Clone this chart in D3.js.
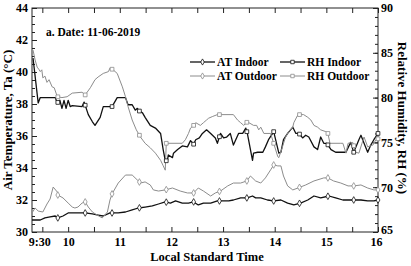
<!DOCTYPE html>
<html>
<head>
<meta charset="utf-8">
<script src="https://cdn.jsdelivr.net/npm/d3@7"></script>
<style>
  body { margin: 0; background: #fff; }
  text { font-family: "Liberation Serif", "Times New Roman", serif; font-weight: bold; fill: #000; }
</style>
</head>
<body>
<svg id="chart" width="411" height="266"></svg>
<script>
// time in decimal hours, AT in degC, RH in %
const atInTime = [9.3, 9.46, 9.55, 9.65, 9.75, 9.8, 9.9, 10.0, 10.1, 10.19, 10.33, 10.47, 10.58, 10.68, 10.81, 10.97, 11.11, 11.24, 11.36, 11.49, 11.63, 11.75, 11.88, 11.98, 12.08, 12.21, 12.33, 12.43, 12.52, 12.62, 12.76, 12.89, 12.99, 13.11, 13.2, 13.34, 13.47, 13.57, 13.63, 13.73, 13.86, 13.98, 14.12, 14.25, 14.37, 14.5, 14.64, 14.76, 14.89, 15.05, 15.18, 15.32, 15.53, 15.67, 15.8, 15.92, 16.0];
const atIn = [30.75, 30.75, 30.88, 30.94, 31.0, 30.88, 31.0, 31.19, 31.19, 31.19, 31.19, 31.13, 31.06, 31.0, 31.19, 31.19, 31.25, 31.38, 31.5, 31.56, 31.63, 31.75, 31.88, 31.81, 31.94, 31.81, 31.81, 31.88, 31.69, 31.81, 31.81, 31.94, 31.94, 31.94, 32.0, 32.13, 32.13, 32.25, 32.13, 32.13, 32.0, 31.94, 32.0, 31.81, 31.69, 31.81, 32.0, 32.25, 32.13, 32.25, 32.13, 32.0, 32.0, 32.0, 31.94, 31.94, 32.0];

const atOutTime = [9.3, 9.36, 9.42, 9.51, 9.59, 9.65, 9.71, 9.79, 9.8, 9.9, 10.0, 10.08, 10.13, 10.19, 10.27, 10.33, 10.39, 10.47, 10.56, 10.66, 10.76, 10.81, 10.85, 10.97, 11.11, 11.24, 11.34, 11.4, 11.49, 11.59, 11.65, 11.75, 11.88, 12.02, 12.17, 12.31, 12.43, 12.52, 12.62, 12.76, 12.85, 12.95, 13.09, 13.2, 13.34, 13.46, 13.53, 13.63, 13.73, 13.82, 13.92, 13.98, 14.06, 14.12, 14.17, 14.25, 14.35, 14.45, 14.6, 14.76, 14.95, 15.03, 15.14, 15.28, 15.42, 15.53, 15.67, 15.8, 15.92, 16.0];
const atOut = [31.19, 31.5, 31.31, 31.25, 31.75, 32.06, 32.81, 32.5, 32.31, 32.13, 31.81, 31.56, 31.5, 31.56, 31.81, 31.88, 31.56, 31.25, 31.06, 30.88, 31.25, 32.0, 32.38, 33.06, 33.56, 33.56, 33.25, 33.06, 33.13, 32.94, 32.63, 32.56, 32.63, 32.75, 32.56, 32.44, 32.44, 32.75, 32.56, 32.25, 32.44, 32.56, 32.88, 33.06, 33.06, 33.19, 33.5, 33.19, 33.06, 33.38, 33.88, 34.19, 34.13, 34.13, 33.5, 32.88, 32.63, 32.75, 32.94, 33.19, 33.38, 33.38, 33.19, 33.06, 32.88, 32.88, 32.94, 32.75, 32.63, 32.63];

const rhInTime = [9.32, 9.42, 9.46, 9.75, 9.79, 9.84, 9.88, 9.92, 9.96, 10.0, 10.04, 10.08, 10.27, 10.31, 10.39, 10.47, 10.52, 10.62, 10.68, 10.85, 10.95, 11.11, 11.16, 11.24, 11.3, 11.34, 11.38, 11.44, 11.49, 11.59, 11.69, 11.79, 11.84, 11.88, 11.92, 11.94, 12.02, 12.04, 12.12, 12.21, 12.31, 12.37, 12.43, 12.47, 12.54, 12.6, 12.68, 12.76, 12.85, 12.89, 12.95, 13.01, 13.07, 13.14, 13.2, 13.3, 13.38, 13.44, 13.47, 13.53, 13.57, 13.59, 13.67, 13.77, 13.82, 13.88, 13.96, 13.98, 14.08, 14.12, 14.17, 14.25, 14.35, 14.41, 14.47, 14.54, 14.6, 14.66, 14.76, 14.83, 14.89, 14.95, 15.01, 15.09, 15.18, 15.38, 15.47, 15.53, 15.63, 15.67, 15.73, 15.8, 15.86, 15.92, 16.0];
const rhIn = [84.4, 79.4, 80.0, 80.0, 79.4, 79.7, 78.8, 79.7, 78.8, 79.7, 79.0, 79.1, 79.0, 79.5, 78.1, 77.3, 76.9, 77.8, 79.0, 79.0, 80.0, 80.0, 79.2, 79.2, 78.6, 78.8, 78.5, 78.3, 77.8, 76.9, 76.6, 76.0, 74.2, 73.0, 72.9, 73.6, 73.3, 73.8, 74.2, 74.6, 74.5, 75.2, 74.8, 75.3, 75.5, 76.0, 76.4, 76.0, 75.5, 74.9, 76.0, 75.5, 75.6, 76.0, 74.7, 76.0, 76.0, 76.6, 76.0, 74.2, 73.0, 73.8, 73.9, 73.9, 74.5, 75.3, 76.0, 76.2, 73.8, 73.9, 75.3, 76.0, 76.7, 76.0, 76.0, 75.5, 75.8, 75.6, 74.5, 74.2, 75.6, 74.9, 74.9, 74.2, 73.9, 73.9, 75.0, 73.9, 75.3, 75.8, 74.9, 73.9, 74.7, 75.3, 76.0];

const rhOutTime = [9.32, 9.36, 9.4, 9.44, 9.46, 9.49, 9.51, 9.55, 9.59, 9.63, 9.69, 9.73, 9.79, 9.88, 9.98, 10.08, 10.27, 10.33, 10.43, 10.52, 10.58, 10.68, 10.78, 10.81, 10.87, 10.95, 11.05, 11.11, 11.16, 11.24, 11.32, 11.4, 11.49, 11.59, 11.69, 11.79, 11.84, 11.88, 11.9, 12.21, 12.27, 12.33, 12.37, 12.43, 12.47, 12.56, 12.62, 12.68, 12.72, 12.8, 12.89, 13.2, 13.28, 13.34, 13.4, 13.47, 13.59, 13.65, 13.69, 13.73, 13.79, 13.92, 13.98, 14.06, 14.08, 14.15, 14.21, 14.27, 14.35, 14.37, 14.45, 14.5, 14.56, 14.64, 14.7, 14.76, 14.83, 14.89, 14.99, 15.03, 15.07, 15.28, 15.32, 15.38, 15.42, 15.51, 15.57, 15.63, 15.69, 15.73, 15.8, 15.9, 15.96, 16.0];
const rhOut = [85.3, 84.2, 83.4, 83.1, 82.9, 83.1, 82.2, 82.4, 81.7, 82.0, 81.2, 81.1, 80.1, 80.0, 80.1, 80.5, 80.6, 80.3, 81.1, 82.0, 82.3, 82.7, 82.9, 83.3, 83.1, 82.7, 81.2, 80.1, 79.0, 77.5, 76.4, 75.6, 74.9, 74.4, 73.8, 73.0, 72.4, 71.9, 74.9, 74.9, 75.3, 76.0, 76.6, 76.9, 77.2, 76.9, 77.2, 77.5, 77.7, 77.9, 78.1, 78.1, 77.5, 77.2, 76.9, 77.3, 76.9, 76.9, 76.4, 76.7, 76.0, 76.0, 74.9, 73.4, 73.3, 74.5, 75.6, 76.2, 76.7, 77.2, 78.1, 78.1, 78.1, 77.8, 77.5, 76.9, 76.7, 76.4, 76.2, 76.0, 74.9, 74.9, 74.9, 73.8, 74.9, 75.0, 73.9, 73.8, 74.9, 75.6, 74.5, 74.7, 75.3, 75.4];

// symbols sit every ~31 min along each curve
const markerTimes = [9.8, 10.33, 10.85, 11.38, 11.9, 12.43, 12.93, 13.46, 13.98, 14.48, 15.03, 15.53, 16.0];

const xTicks = [9.5, 10, 10.5, 11, 11.5, 12, 12.5, 13, 13.5, 14, 14.5, 15, 15.5, 16];
const xLabels = {9.5: "9:30", 10: "10", 11: "11", 12: "12", 13: "13", 14: "14", 15: "15", 16: "16"};
const atTicks = [30, 32, 34, 36, 38, 40, 42, 44];
const rhTicks = [65, 70, 75, 80, 85, 90];

const series = [
  {name: "AT Indoor", t: atInTime, v: atIn, axis: "at", color: "#111", width: 1.3, symbol: d3.symbolDiamond},
  {name: "RH Indoor", t: rhInTime, v: rhIn, axis: "rh", color: "#111", width: 1.3, symbol: d3.symbolSquare},
  {name: "AT Outdoor", t: atOutTime, v: atOut, axis: "at", color: "#8c8c8c", width: 1, symbol: d3.symbolDiamond},
  {name: "RH Outdoor", t: rhOutTime, v: rhOut, axis: "rh", color: "#8c8c8c", width: 1, symbol: d3.symbolSquare}
];

const plotL = 32, plotR = 378, plotT = 8, plotB = 232;

let svg = d3.select("#chart");

let x = d3.scaleLinear().domain([9.3, 16]).range([plotL, plotR]);
let yAT = d3.scaleLinear().domain([30, 44]).range([plotB, plotT]);
let yRH = d3.scaleLinear().domain([65, 90]).range([plotB, plotT]);

// axes, ticks pointing inward
let xAxis = d3.axisBottom(x).tickValues(xTicks).tickSizeInner(-5).tickSizeOuter(0)
  .tickPadding(5).tickFormat(d => xLabels[d] || "");
let xTop = d3.axisTop(x).tickValues(xTicks).tickSizeInner(-5).tickSizeOuter(0).tickFormat("");
let atAxis = d3.axisLeft(yAT).tickValues(atTicks).tickSizeInner(-5).tickSizeOuter(0).tickPadding(4);
let atMinor = d3.axisLeft(yAT).tickValues(d3.range(30, 44.01, 0.5)).tickSizeInner(-3).tickSizeOuter(0).tickFormat("");
let rhAxis = d3.axisRight(yRH).tickValues(rhTicks).tickSizeInner(-5).tickSizeOuter(0).tickPadding(3);
let rhMinor = d3.axisRight(yRH).tickValues(d3.range(65, 90.01, 1)).tickSizeInner(-3).tickSizeOuter(0).tickFormat("");

let gx = svg.append("g").attr("transform", `translate(0,${plotB})`).call(xAxis);
svg.append("g").attr("transform", `translate(0,${plotT})`).call(xTop);
svg.append("g").attr("transform", `translate(${plotL},0)`).call(atMinor);
svg.append("g").attr("transform", `translate(${plotL},0)`).call(atAxis);
svg.append("g").attr("transform", `translate(${plotR},0)`).call(rhMinor);
let gRH = svg.append("g").attr("transform", `translate(${plotR},0)`).call(rhAxis);

svg.selectAll(".tick text").style("font-size", "12px");
gx.selectAll(".tick text").filter(d => d === 9.5).attr("dx", -3);
gx.selectAll(".tick text").filter(d => d === 16).attr("dx", -2);
gRH.selectAll(".tick text").filter(d => d === 65).attr("dy", "0.1em");
svg.selectAll(".domain").remove();
svg.selectAll(".tick line").attr("stroke", "#222");

svg.append("rect")
  .attr("x", plotL).attr("y", plotT)
  .attr("width", plotR - plotL).attr("height", plotB - plotT)
  .attr("fill", "none").attr("stroke", "#222").attr("stroke-width", 1);

// lines
let plot = svg.append("g");
for (let s of series) {
  let yScale = s.axis === "at" ? yAT : yRH;
  let pts = s.t.map((t, i) => [t, s.v[i]]);
  let line = d3.line().x(d => x(d[0])).y(d => yScale(d[1]));
  plot.append("path")
    .attr("d", line(pts))
    .attr("fill", "none")
    .attr("stroke", s.color)
    .attr("stroke-width", s.width)
    .attr("stroke-linejoin", "round");
}

// symbols on the curves
let bisect = d3.bisector(d => d).left;
function valueAt(s, t) {
  let i = Math.min(Math.max(bisect(s.t, t), 1), s.t.length - 1);
  let t0 = s.t[i - 1], t1 = s.t[i];
  let f = t1 === t0 ? 0 : (t - t0) / (t1 - t0);
  return s.v[i - 1] + f * (s.v[i] - s.v[i - 1]);
}
function symSize(s) { return s.symbol === d3.symbolSquare ? 14 : 13; }
for (let s of series) {
  let yScale = s.axis === "at" ? yAT : yRH;
  let sym = d3.symbol().type(s.symbol).size(symSize(s));
  plot.selectAll(null)
    .data(markerTimes)
    .join("path")
    .attr("d", sym)
    .attr("transform", t => `translate(${x(t)},${yScale(valueAt(s, t))})`)
    .attr("fill", "#fff")
    .attr("stroke", s.color)
    .attr("stroke-width", 0.8);
}

// titles
svg.append("text")
  .attr("transform", `translate(12,${(plotT + plotB) / 2}) rotate(-90)`)
  .attr("text-anchor", "middle")
  .style("font-size", "13px")
  .text("Air Temperature, Ta (°C)");

svg.append("text")
  .attr("transform", `translate(398,${(plotT + plotB) / 2 - 2}) rotate(90)`)
  .attr("text-anchor", "middle")
  .style("font-size", "13px")
  .text("Relative Humidity, RH (%)");

svg.append("text")
  .attr("x", (plotL + plotR) / 2 + 2).attr("y", 261)
  .attr("text-anchor", "middle")
  .style("font-size", "12.5px")
  .text("Local Standard Time");

svg.append("text")
  .attr("x", 46).attr("y", 36)
  .style("font-size", "11.5px")
  .text("a. Date: 11-06-2019");

// legend, two columns
let legendPos = [[190, 62], [280, 62], [190, 76], [280, 76]];
series.forEach((s, i) => {
  let [lx, ly] = legendPos[i];
  let g = svg.append("g").attr("transform", `translate(${lx},${ly})`);
  g.append("line").attr("x1", 0).attr("x2", 25)
    .attr("stroke", s.color).attr("stroke-width", s.width);
  g.append("path")
    .attr("d", d3.symbol().type(s.symbol).size(symSize(s) - 2))
    .attr("transform", "translate(12.5,0)")
    .attr("fill", "#fff").attr("stroke", s.color).attr("stroke-width", 0.8);
  g.append("text").attr("x", 27).attr("y", 4)
    .style("font-size", "11.5px")
    .text(s.name);
});
</script>
</body>
</html>
